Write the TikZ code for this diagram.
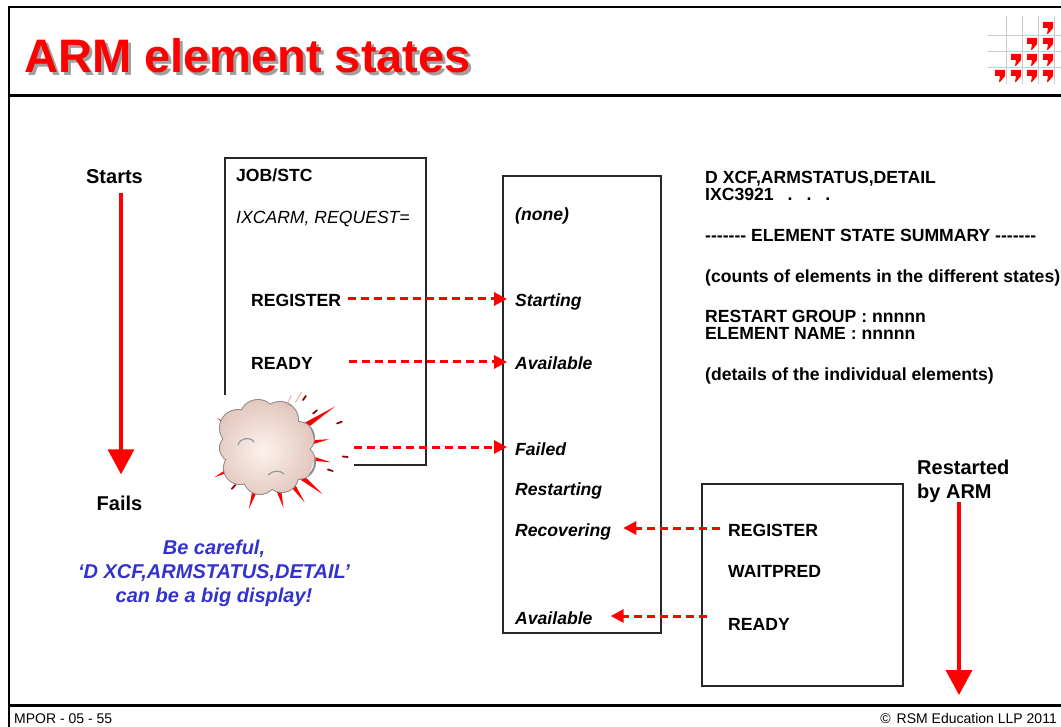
\documentclass[tikz,border=0pt]{standalone}
\usepackage{fontspec}
\setmainfont{Liberation Sans}
\usetikzlibrary{arrows.meta}

\definecolor{rosso}{RGB}{255,0,0}
\definecolor{blu}{RGB}{51,51,204}
\definecolor{ombra}{RGB}{160,160,160}
\definecolor{bordo}{RGB}{40,40,40}

\begin{document}
\begin{tikzpicture}[x=1pt,y=-1pt,
  testo/.style={anchor=base west,inner sep=0pt,text height=16pt,text depth=0pt,
    font=\fontsize{17.6}{17.5}\selectfont\bfseries},
  stato/.style={testo,font=\fontsize{17.6}{17.5}\selectfont\bfseries\itshape},
  colonna/.style={anchor=base west,inner sep=0pt,align=left,
    font=\fontsize{17.6}{17.5}\selectfont\bfseries},
  grande/.style={inner sep=0pt,align=left,font=\fontsize{20}{23.3}\selectfont\bfseries},
  scatola/.style={draw=bordo,line width=1.3pt},
  freccia/.style={rosso,line width=3pt,dash pattern=on 8pt off 5pt,
    -{Triangle[length=13pt,width=13pt]}},
  frecciona/.style={rosso,line width=3.5pt,-{Triangle[length=25pt,width=26pt]}}]

\def\trattini{-{}-{}-{}-{}-{}-{}-}
\def\nuvola{(-30,-22) circle (18) (-10,-32) circle (18) (12,-30) circle (18)
  (30,-12) circle (16) (30,12) circle (17) (14,26) circle (16) (-8,28) circle (16)
  (-28,18) circle (16) (-34,-2) circle (14) (0,0) circle (32)}

\useasboundingbox (0,0) rectangle (1061,727);

%cornice
\draw[line width=2pt] (9,727) -- (9,7) -- (1061,7);
\draw[line width=3pt] (9,96) -- (1061,96);
\draw[line width=3pt] (9,705) -- (1061,705);

%titolo
\node[anchor=base west,inner sep=0pt,text=ombra,font=\fontsize{47}{50}\selectfont\bfseries] (ombratitolo) at (27,76) {ARM element states};
\node[anchor=base west,inner sep=0pt,text=rosso,font=\fontsize{47}{50}\selectfont\bfseries] (titolo) at (24,73) {ARM element states};

%logo
\foreach \x in {1006,1022,1038,1054}
  \draw[black!20,line width=1pt] (\x,16) -- (\x,84);
\foreach \y in {36,52,68}
  \draw[black!20,line width=1pt] (988,\y) -- (1061,\y);
\foreach \k in {0,...,3}
  \foreach \r in {\k,...,3}
  { \fill[rosso] ({1038-16*\k},{20+16*\r}) ++(5,2) -- ++(10,0) -- ++(0,6) -- ++(-5,6) -- ++(-1,0) -- ++(1,-6) -- ++(-5,0) -- cycle;}

%contenitore JOB/STC
\draw[scatola] (225,158) rectangle (426,465);
\node[testo] (job) at (236,182) {JOB/STC};
\node[testo,font=\fontsize{17.6}{17.5}\selectfont\itshape] (macro) at (236,224) {IXCARM, REQUEST=};
\node[testo] (reg) at (251,307) {REGISTER};
\node[testo] (ready) at (251,370) {READY};

%esplosione
\fill[white] (200,395) rectangle (354,506);
\begin{scope}[shift={(268,450)}]
 \foreach \a/\l in {327/80,350/62,11/64,39/70,55/64,75/60,108/62,153/60,212/60}
   \fill[rosso] (\a-10:26) -- (\a:\l) -- (\a+10:26) -- cycle;
 \draw[black!45,line width=2pt] \nuvola;
 \begin{scope}
  \clip \nuvola;
  \shade[inner color={rgb,255:red,252;green,243;blue,236},outer color={rgb,255:red,226;green,198;blue,190}] (-5,0) circle (52);
 \end{scope}
 \draw[black!40,line width=1.2pt] (-30,-5) .. controls (-28,-12) and (-18,-14) .. (-14,-8);
 \draw[black!40,line width=1.2pt] (0,25) .. controls (5,20) and (12,20) .. (16,24);
 \foreach \a/\r in {305/61,321/58,339/74,5/75,18/63,133/48}
   \draw[rosso!60!black,line width=1.8pt,line cap=round] (\a:\r) -- (\a:\r+5);
 \foreach \a/\r in {293/47,300/55}
   \draw[rosso!35,line width=1pt] (\a:\r) -- (\a:\r+12);
\end{scope}

%contenitore stati
\draw[scatola] (503,176) rectangle (661,633);
\node[stato] (none) at (515,221) {(none)};
\node[stato] (starting) at (515,307) {Starting};
\node[stato] (avail) at (515,370) {Available};
\node[stato] (failed) at (515,455) {Failed};
\node[stato] (restarting) at (515,495) {Restarting};
\node[stato] (recovering) at (515,536) {Recovering};
\node[stato] (avail2) at (515,624) {Available};

%contenitore riavvio
\draw[scatola] (702,484) rectangle (903,686);
\node[testo] (reg2) at (728,536) {REGISTER};
\node[testo] (wait) at (728,577) {WAITPRED};
\node[testo] (ready2) at (728,630) {READY};

%frecce tratteggiate
\draw[freccia,shorten <=7pt,shorten >=8pt] (reg.east) -- (starting.west);
\draw[freccia,shorten <=36pt,shorten >=8pt] (ready.east) -- (avail.west);
\coordinate (botto) at (354,447);
\draw[freccia,shorten >=8pt] (botto) -- (failed.west);
\draw[freccia,shorten <=8pt,shorten >=12pt] (reg2.west) -- (recovering.east);
\draw[freccia,shorten <=21pt,shorten >=18pt] (avail2.east -| ready2.west) -- (avail2.east);

%colonna destra (base = ultima riga)
\node[colonna] (comando) at (705,201) {D XCF,ARMSTATUS,DETAIL\\IXC3921\hspace{14pt}.\hspace{14pt}.\hspace{14pt}.};
\node[colonna] (sommario) at (705,242) {\trattini{} ELEMENT STATE SUMMARY \trattini};
\node[colonna] (conteggi) at (705,283) {(counts of elements in the different states)};
\node[colonna] (gruppo) at (705,340) {RESTART GROUP : nnnnn\\ELEMENT NAME : nnnnn};
\node[colonna] (dettagli) at (705,381) {(details of the individual elements)};

%avvio e guasto
\node[grande,anchor=base] (parte) at (114.5,184) {Starts};
\node[grande,anchor=base] (fallisce) at (119.5,510) {Fails};
\draw[frecciona,shorten <=9pt,shorten >=21pt] ([xshift=6.5pt]parte.south) -- ([xshift=1.5pt]fallisce.north);

\node[grande,anchor=base west] (riavviato) at (917,498) {Restarted\\by ARM};
\coordinate (fondo) at (959,695);
\draw[frecciona] (riavviato.south -| fondo) -- (fondo);

%avviso
\node[inner sep=0pt,align=center,anchor=base,text=blu,font=\fontsize{20}{24}\selectfont\bfseries\itshape] (avviso) at (214,602) {Be careful,\\‘D XCF,ARMSTATUS,DETAIL’\hspace*{43pt}\\can be a big display!};

%piè di pagina
\node[anchor=base west,inner sep=0pt,font=\fontsize{14}{16}\selectfont] (codice) at (14,723) {MPOR - 05 - 55};
\node[anchor=base east,inner sep=0pt,font=\fontsize{14}{16}\selectfont] (diritti) at (1057,723) {©\hspace{6pt}RSM Education LLP 2011};

\end{tikzpicture}
\end{document}
